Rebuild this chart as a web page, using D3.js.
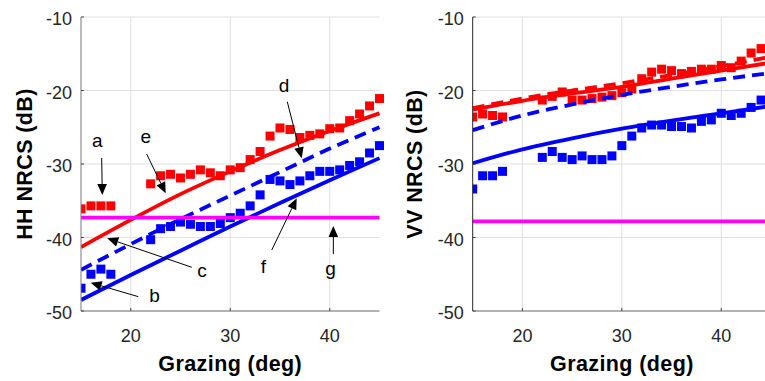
<!DOCTYPE html>
<html>
<head>
<meta charset="utf-8">
<script src="https://cdn.jsdelivr.net/npm/d3@7"></script>
<style>
  html, body { margin: 0; padding: 0; background: #fff; }
  svg { display: block; }
  text { font-family: "Liberation Sans", Arial, Helvetica, sans-serif; }
</style>
</head>
<body>
<svg id="chart" width="765" height="381"></svg>
<script>
// ---- data ----
const xTicks = [20, 30, 40];
const yTicks = [-10, -20, -30, -40, -50];

// measured grazing angles (deg)
const hhAngles = [15,16,17,18,22,23,24,25,26,27,28,29,30,31,32,33,34,35,36,37,38,39,40,41,42,43,44,45];
const vvAngles = [15,16,17,18,22,23,24,25,26,27,28,29,30,31,32,33,34,35,36,37,38,39,40,41,42,43,44];

// measured NRCS (dB)
const hhRed  = [-36.1,-35.7,-35.7,-35.7,-32.7,-31.6,-31.4,-31.9,-31.4,-30.8,-31.2,-31.6,-30.8,-30.5,-29.4,-28.3,-26.2,-25.1,-25.3,-26.4,-26.1,-25.9,-25.2,-25.1,-24.1,-23.2,-22.1,-21.1];
const hhBlue = [-46.9,-45.0,-44.3,-45.0,-40.3,-38.8,-38.5,-37.9,-38.2,-38.5,-38.5,-38.1,-37.3,-36.7,-35.7,-34.2,-32.1,-32.3,-32.8,-32.3,-31.6,-31.0,-31.0,-30.8,-30.2,-29.7,-28.5,-27.5];
const vvRed  = [-23.6,-23.2,-23.4,-23.6,-21.3,-20.8,-20.2,-21.3,-21.3,-21.1,-20.9,-20.7,-20.3,-19.8,-18.4,-17.5,-17.1,-17.3,-17.7,-17.4,-17.1,-17.1,-16.6,-16.9,-16.0,-14.9,-14.3];
const vvBlue = [-33.4,-31.6,-31.6,-31.0,-29.1,-28.3,-29.1,-29.4,-28.9,-29.4,-29.4,-28.9,-27.5,-26.2,-25.1,-24.7,-24.7,-24.9,-24.9,-25.1,-24.2,-24.0,-23.1,-23.4,-23.1,-22.3,-21.3];

// model curves
const modelAngles = [15, 20, 25, 30, 35, 40, 45];
const hhRedModel       = [-41.3,-37.6,-34.1,-31.0,-28.1,-25.5,-23.1];
const hhBlueDashModel  = [-44.4,-40.9,-37.5,-34.3,-31.1,-27.9,-25.0];
const hhBlueModel      = [-48.5,-45.1,-41.8,-38.5,-35.3,-32.2,-29.2];
const vvRedModel       = [-22.6,-21.4,-20.4,-19.5,-18.4,-17.3,-16.2];
const vvRedDashModel   = [-22.4,-21.1,-20.0,-19.0,-17.9,-16.7,-15.4];
const vvBlueDashModel  = [-25.4,-23.4,-21.9,-20.6,-19.5,-18.5,-17.6];
const vvBlueModel      = [-29.9,-28.0,-26.5,-25.2,-24.1,-23.1,-22.1];

// noise floor (dB)
const hhNoise = -37.3;
const vvNoise = -37.8;

// labelled arrows on the HH panel: [label, textX, textY, tailX, tailY, headX, headY] in data units
const hhNotes = [
  ["a", 16.64, -27.73, 17.08, -29.18, 17.14, -34.22],
  ["e", 21.51, -27.10, 21.60, -28.64, 23.51, -33.99],
  ["d", 35.40, -20.16, 35.73, -21.52, 37.18, -29.22],
  ["c", 27.16, -45.33, 26.13, -44.05, 17.64, -40.11],
  ["b", 22.39, -48.73, 20.76, -48.05, 15.97, -46.15],
  ["f", 33.32, -44.87, 34.17, -41.70, 36.68, -34.67],
  ["g", 40.08, -45.10, 40.36, -42.24, 40.36, -38.44]
];

// ---- drawing ----
const svg = d3.select("#chart");
const RED = "#ff0000", BLUE = "#0000ff", MAG = "#ff00ff";

function panel(opts) {
  const x = d3.scaleLinear().domain([15, 45]).range([opts.left, opts.right]);
  const y = d3.scaleLinear().domain([-50, -10]).range([311, 17]);
  const g = svg.append("g");
  const id = "clip" + opts.name;
  svg.append("clipPath").attr("id", id).append("rect")
    .attr("x", opts.left).attr("y", 10).attr("width", opts.right - opts.left + 6).attr("height", 305);

  // grid
  g.append("g").selectAll("line").data(xTicks).join("line")
    .attr("x1", d => x(d)).attr("x2", d => x(d)).attr("y1", y(-50)).attr("y2", y(-10))
    .attr("stroke", "#dfdfdf").attr("stroke-width", 1);
  g.append("g").selectAll("line").data(yTicks.filter(v => v > -50)).join("line")
    .attr("x1", x(15)).attr("x2", x(45)).attr("y1", d => y(d)).attr("y2", d => y(d))
    .attr("stroke", "#dfdfdf").attr("stroke-width", 1);

  const plot = g.append("g").attr("clip-path", `url(#${id})`);

  // measured squares
  const sq = 9;
  const drawSquares = (angles, vals, color) => {
    plot.append("g").selectAll("rect").data(angles.map((a, i) => [a, vals[i]])).join("rect")
      .attr("x", d => x(d[0]) - sq / 2).attr("y", d => y(d[1]) - sq / 2)
      .attr("width", sq).attr("height", sq).attr("fill", color);
  };
  opts.squares.forEach(s => drawSquares(s.angles, s.vals, s.color));

  // model lines
  const line = d3.line().x(d => x(d[0])).y(d => y(d[1])).curve(d3.curveMonotoneX);
  opts.models.forEach(m => {
    plot.append("path").datum(modelAngles.map((a, i) => [a, m.vals[i]]))
      .attr("d", line).attr("fill", "none").attr("stroke", m.color)
      .attr("stroke-width", 3.8)
      .attr("stroke-dasharray", m.dash ? "12,7" : null);
  });

  // noise floor
  plot.append("line").attr("x1", x(15)).attr("x2", x(45))
    .attr("y1", y(opts.noise)).attr("y2", y(opts.noise))
    .attr("stroke", MAG).attr("stroke-width", 3.6);

  // axes
  const ax = g.append("g");
  ax.append("line").attr("x1", x(15)).attr("x2", x(15)).attr("y1", y(-10)).attr("y2", y(-50))
    .attr("stroke", opts.yAxisColor).attr("stroke-width", 1);
  ax.append("line").attr("x1", x(15)).attr("x2", x(45)).attr("y1", y(-50)).attr("y2", y(-50))
    .attr("stroke", "#666").attr("stroke-width", 1.2);
  ax.selectAll(".xt").data(xTicks).join("line").attr("class", "xt")
    .attr("x1", d => x(d)).attr("x2", d => x(d)).attr("y1", y(-50)).attr("y2", y(-50) - 3)
    .attr("stroke", "#444");
  ax.selectAll(".yt").data(yTicks).join("line").attr("class", "yt")
    .attr("x1", x(15)).attr("x2", x(15) + 3).attr("y1", d => y(d)).attr("y2", d => y(d))
    .attr("stroke", "#444");

  ax.selectAll(".xl").data(xTicks).join("text").attr("class", "xl")
    .attr("x", d => x(d)).attr("y", 341.5).attr("text-anchor", "middle")
    .attr("font-size", 18).attr("fill", "#262626").text(d => d);
  ax.selectAll(".yl").data(yTicks).join("text").attr("class", "yl")
    .attr("x", x(15) - 9).attr("y", d => y(d) + 8).attr("text-anchor", "end")
    .attr("font-size", 18).attr("fill", "#262626").text(d => d);

  g.append("text").attr("x", (opts.left + opts.left + 298.5) / 2).attr("y", 370.5)
    .attr("text-anchor", "middle").attr("font-size", 21.5).attr("font-weight", "bold")
    .attr("letter-spacing", 0.4).attr("fill", "#000").text("Grazing (deg)");
  g.append("text").attr("transform", `translate(${opts.yLabelX},164) rotate(-90)`)
    .attr("text-anchor", "middle").attr("font-size", 21.5).attr("font-weight", "bold")
    .attr("letter-spacing", 0.4).attr("fill", "#000").text(opts.yLabel);

  return { x, y, g };
}

const left = panel({
  name: "hh", left: 81, right: 379.5, yLabel: "HH NRCS (dB)", yLabelX: 32, yAxisColor: "#777",
  squares: [{ angles: hhAngles, vals: hhRed, color: RED }, { angles: hhAngles, vals: hhBlue, color: BLUE }],
  models: [
    { vals: hhBlueModel, color: BLUE, dash: false },
    { vals: hhBlueDashModel, color: BLUE, dash: true },
    { vals: hhRedModel, color: RED, dash: false }
  ],
  noise: hhNoise
});

panel({
  name: "vv", left: 472.7, right: 771, yLabel: "VV NRCS (dB)", yLabelX: 421.5, yAxisColor: "#262626",
  squares: [{ angles: vvAngles, vals: vvRed, color: RED }, { angles: vvAngles, vals: vvBlue, color: BLUE }],
  models: [
    { vals: vvBlueModel, color: BLUE, dash: false },
    { vals: vvBlueDashModel, color: BLUE, dash: true },
    { vals: vvRedModel, color: RED, dash: false },
    { vals: vvRedDashModel, color: RED, dash: true }
  ],
  noise: vvNoise
});

// annotation arrows on the HH panel
const notes = left.g.append("g");
hhNotes.forEach(([label, tx, ty, x0, y0, x1, y1]) => {
  const X0 = left.x(x0), Y0 = left.y(y0), X1 = left.x(x1), Y1 = left.y(y1);
  const len = Math.hypot(X1 - X0, Y1 - Y0), ux = (X1 - X0) / len, uy = (Y1 - Y0) / len;
  const hl = 11, hw = 4.8;
  const bx = X1 - ux * hl, by = Y1 - uy * hl;
  notes.append("line").attr("x1", X0).attr("y1", Y0).attr("x2", bx).attr("y2", by)
    .attr("stroke", "#000").attr("stroke-width", 1);
  notes.append("path")
    .attr("d", `M${X1},${Y1}L${bx - uy * hw},${by + ux * hw}L${bx + uy * hw},${by - ux * hw}Z`)
    .attr("fill", "#000");
  notes.append("text").attr("x", left.x(tx)).attr("y", left.y(ty))
    .attr("text-anchor", "middle").attr("font-size", 19).attr("fill", "#000").text(label);
});
</script>
</body>
</html>
